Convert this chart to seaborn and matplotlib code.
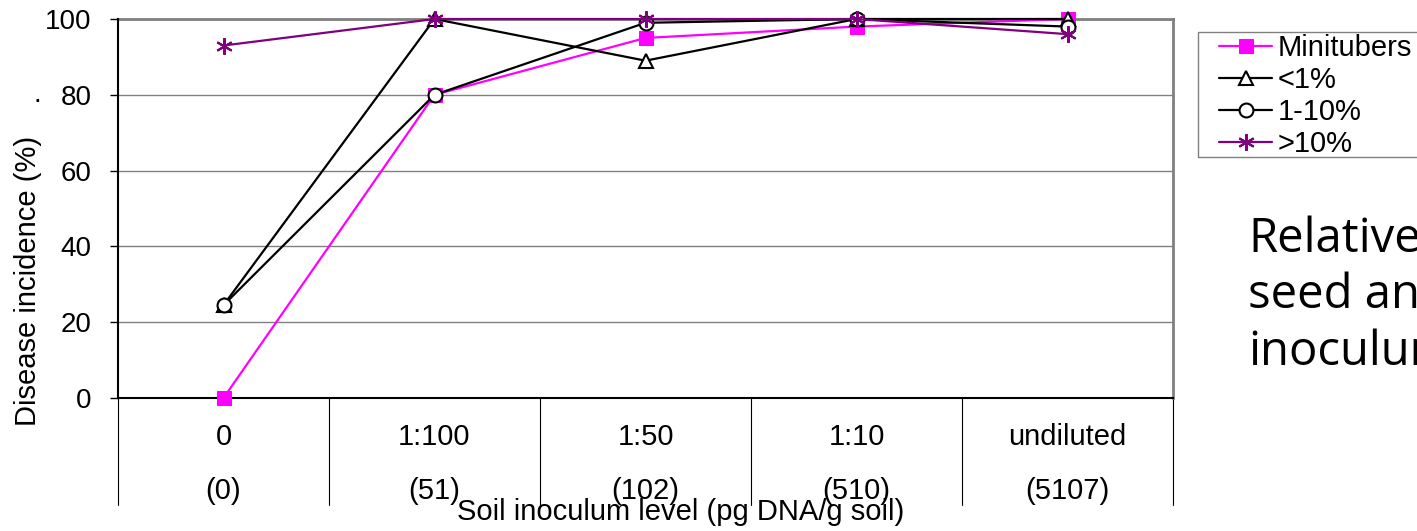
import matplotlib
matplotlib.use("Agg")
import matplotlib.pyplot as plt
import matplotlib.transforms as mtransforms
from matplotlib.patches import Rectangle
import seaborn as sns
import pandas as pd
import numpy as np

# ---- data ----
dilutions = ["0", "1:100", "1:50", "1:10", "undiluted"]
dna_levels = ["(0)", "(51)", "(102)", "(510)", "(5107)"]
series_names = ["Minitubers", "<1%", "1-10%", ">10%"]
minitubers = [0, 80, 95, 98, 100]
lt1 = [24.5, 100, 89, 100, 100]
p1_10 = [24.5, 80, 99, 100, 98]
gt10 = [93, 100, 100, 100, 96]
y_ticks = [0, 20, 40, 60, 80, 100]
side_lines = ["Relative", "seed and", "inoculum"]

values = [minitubers, lt1, p1_10, gt10]
pos = list(range(len(dilutions)))
df = pd.DataFrame({
    "pos": pos * len(series_names),
    "series": [s for s in series_names for _ in pos],
    "value": [v for vals in values for v in vals],
})

sns.set_style("white")
plt.rcParams["font.family"] = ["Liberation Sans", "DejaVu Sans"]
plt.rcParams["text.color"] = "black"
plt.rcParams["axes.labelcolor"] = "black"
plt.rcParams["xtick.color"] = "black"
plt.rcParams["ytick.color"] = "black"

fig = plt.figure(figsize=(14.17, 5.31), dpi=100)
ax = fig.add_axes([118/1417, 1-398/531, (1173-118)/1417, (398-19)/531])

styles = {
    "Minitubers": dict(color="#FF00FF", marker="s", mfc="#FF00FF", mec="#FF00FF", ms=9.5),
    "<1%": dict(color="black", marker="^", mfc="white", mec="black", ms=10, mew=1.5),
    "1-10%": dict(color="black", marker="o", mfc="white", mec="black", ms=10, mew=1.5),
    ">10%": dict(color="#800080", marker=(6, 2, 0), mfc="#800080", mec="#800080", ms=12, mew=1.5),
}
for name in series_names:
    st = styles[name]
    sub = df[df["series"] == name]
    sns.lineplot(data=sub, x="pos", y="value", ax=ax, label=name, lw=1.6,
                 clip_on=False, zorder=3, **st)

ax.set_xlim(-0.5, len(dilutions) - 0.5)
ax.set_ylim(0, 100)
ax.set_yticks(y_ticks)
ax.set_yticklabels([str(t) for t in y_ticks], fontsize=20)
ax.tick_params(axis="y", direction="out", length=6, width=1, color="black", pad=13, left=True)
ax.set_xticks(pos)
ax.set_xticklabels([f"{d}\n{n}" for d, n in zip(dilutions, dna_levels)], fontsize=21,
                   linespacing=2.2)
ax.tick_params(axis="x", length=0, pad=18)

ax.grid(axis="y", color="#808080", lw=1)
ax.set_axisbelow(True)
for s in ["top", "right"]:
    ax.spines[s].set_color("#808080")
    ax.spines[s].set_linewidth(2)
for s in ["left", "bottom"]:
    ax.spines[s].set_color("black")
    ax.spines[s].set_linewidth(1.5)
ax.spines["top"].set_zorder(1)

# category separators of the multi-level axis
trans = mtransforms.blended_transform_factory(ax.transData, ax.transAxes)
for b in np.arange(-0.5, len(dilutions), 1.0):
    ax.plot([b, b], [0, -0.283], transform=trans, color="black", lw=0.8, clip_on=False)

ax.set_xlabel("Soil inoculum level (pg DNA/g soil)", fontsize=21)
ax.xaxis.set_label_coords((681-118)/1055, (398-512)/379)
ax.xaxis.label.set_va("center")
ax.set_ylabel("Disease incidence (%)", fontsize=21)
ax.yaxis.set_label_coords((28-118)/1055, (398-281)/379)
ax.yaxis.label.set_va("center")

fig.text(37/1417, 1-95/531, ".", fontsize=20, ha="center", va="center")

leg = ax.legend(loc="upper left", bbox_to_anchor=(1219/1417, 1-34/531),
                bbox_transform=fig.transFigure, frameon=False,
                fontsize=21, handlelength=1.82, handletextpad=0.2, labelspacing=0.14,
                borderpad=0, borderaxespad=0)
fig.patches.append(Rectangle((1198/1417, 1-157/531), 0.2, (157-32)/531,
                             transform=fig.transFigure, fill=False,
                             edgecolor="#808080", lw=1))

for line, base in zip(side_lines, [252, 308.5, 365]):
    fig.text(1248/1417, 1-base/531, line, fontsize=34, family="Open Sans",
             ha="left", va="baseline")

fig.savefig("out.png", dpi=100)
